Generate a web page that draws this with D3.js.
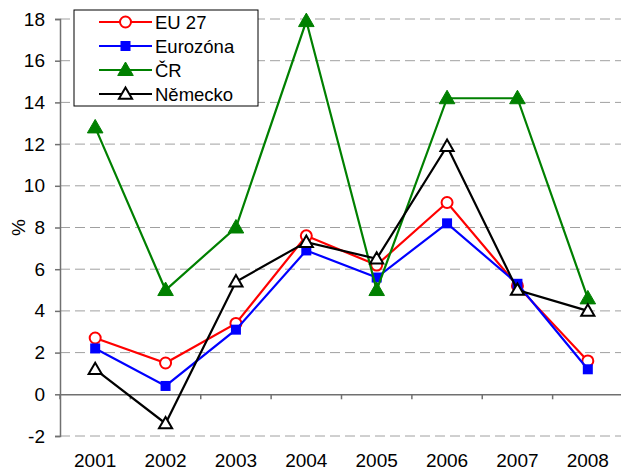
<!DOCTYPE html>
<html>
<head>
<meta charset="utf-8">
<script src="https://cdn.jsdelivr.net/npm/d3@7"></script>
<style>
  body { margin: 0; background: #fff; }
  svg text { font-family: Arial, "Liberation Sans", sans-serif; fill: #000; }
</style>
</head>
<body>
<svg id="chart" width="621" height="470"></svg>
<script>
var years = ["2001", "2002", "2003", "2004", "2005", "2006", "2007", "2008"];
var yTicks = [-2, 0, 2, 4, 6, 8, 10, 12, 14, 16, 18];
var eu27 = [2.7, 1.5, 3.4, 7.6, 6.2, 9.2, 5.2, 1.6];
var eurozona = [2.2, 0.4, 3.1, 6.9, 5.6, 8.2, 5.3, 1.2];
var cr = [12.8, 5.0, 8.0, 17.9, 5.0, 14.2, 14.2, 4.6];
var nemecko = [1.2, -1.4, 5.4, 7.3, 6.5, 11.9, 5.0, 4.0];

var series = [
	{name: "EU 27", values: eu27, color: "#ff0000", marker: "circle"},
	{name: "Eurozóna", values: eurozona, color: "#0000ff", marker: "square"},
	{name: "ČR", values: cr, color: "#008000", marker: "triFill"},
	{name: "Německo", values: nemecko, color: "#000000", marker: "triOpen"}
];

var svg = d3.select("#chart"),
	left = 60,
	right = 623;

var x = d3.scaleBand().domain(years).range([left, right]);
var y = d3.scaleLinear().domain([-2, 18]).range([436, 19]);

// grid
svg.append("g").selectAll("line").data(yTicks.filter(function(d) { return d !== 0; }))
	.enter().append("line")
	.attr("x1", left).attr("x2", 621)
	.attr("y1", function(d) { return y(d); }).attr("y2", function(d) { return y(d); })
	.attr("stroke", "#a0a0a0").attr("stroke-width", 1)
	.attr("stroke-dasharray", "10,5");

// y axis
var yAxis = svg.append("g")
	.attr("transform", "translate(" + left + ",0)")
	.call(d3.axisLeft(y).tickValues(yTicks).tickSize(5).tickPadding(10)
		.tickFormat(function(d) { return String(d); }));
yAxis.select(".domain").attr("stroke", "#707070").attr("stroke-width", 1.5);
yAxis.selectAll(".tick line").attr("stroke", "#707070").attr("stroke-width", 1.5);
yAxis.selectAll("text").style("font-size", "19px").attr("font-family", "Arial, 'Liberation Sans', sans-serif");

// x axis at zero
var xAxis = svg.append("g")
	.attr("transform", "translate(0," + y(0) + ")")
	.call(d3.axisBottom(x).tickSize(0).tickFormat(""));
xAxis.select(".domain").attr("stroke", "#707070").attr("stroke-width", 1.5);
svg.append("g").selectAll("line").data(years)
	.enter().append("line")
	.attr("x1", function(d) { return x(d); }).attr("x2", function(d) { return x(d); })
	.attr("y1", y(0)).attr("y2", y(0) + 5)
	.attr("stroke", "#707070").attr("stroke-width", 1.5);

svg.append("g").selectAll("text").data(years)
	.enter().append("text")
	.attr("x", function(d) { return x(d) + x.bandwidth() / 2; })
	.attr("y", 467)
	.attr("text-anchor", "middle")
	.style("font-size", "19px")
	.text(function(d) { return d; });

svg.append("text")
	.attr("transform", "translate(25," + y(8) + ") rotate(-90)")
	.attr("text-anchor", "middle")
	.style("font-size", "19px")
	.text("%");

function drawMarker(g, type, color, cx, cy) {
	if (type === "circle") {
		g.append("circle").attr("cx", cx).attr("cy", cy).attr("r", 5.5)
			.attr("fill", "#fff").attr("stroke", color).attr("stroke-width", 2);
	} else if (type === "square") {
		g.append("rect").attr("x", cx - 5).attr("y", cy - 5).attr("width", 10).attr("height", 10)
			.attr("fill", color);
	} else {
		var tri = d3.symbol().type(d3.symbolTriangle).size(type === "triFill" ? 105 : 75);
		g.append("path").attr("d", tri()).attr("transform", "translate(" + cx + "," + (cy + 1) + ")")
			.attr("fill", type === "triFill" ? color : "#fff")
			.attr("stroke", color).attr("stroke-width", type === "triFill" ? 1 : 2);
	}
}

var line = d3.line()
	.x(function(d, i) { return x(years[i]) + x.bandwidth() / 2; })
	.y(function(d) { return y(d); });

series.forEach(function(s) {
	var g = svg.append("g");
	g.append("path").attr("d", line(s.values))
		.attr("fill", "none").attr("stroke", s.color).attr("stroke-width", 2.2);
	s.values.forEach(function(v, i) {
		drawMarker(g, s.marker, s.color, x(years[i]) + x.bandwidth() / 2, y(v));
	});
});

// legend
var leg = svg.append("g");
leg.append("rect").attr("x", 74).attr("y", 10).attr("width", 184).attr("height", 96)
	.attr("fill", "#fff").attr("stroke", "#000").attr("stroke-width", 1);
series.forEach(function(s, i) {
	var ly = 22 + i * 24;
	leg.append("line").attr("x1", 99).attr("x2", 152).attr("y1", ly).attr("y2", ly)
		.attr("stroke", s.color).attr("stroke-width", 2.2);
	drawMarker(leg, s.marker, s.color, 125.5, ly);
	leg.append("text").attr("x", 155).attr("y", ly + 6.5)
		.style("font-size", "18.5px").text(s.name);
});
</script>
</body>
</html>
